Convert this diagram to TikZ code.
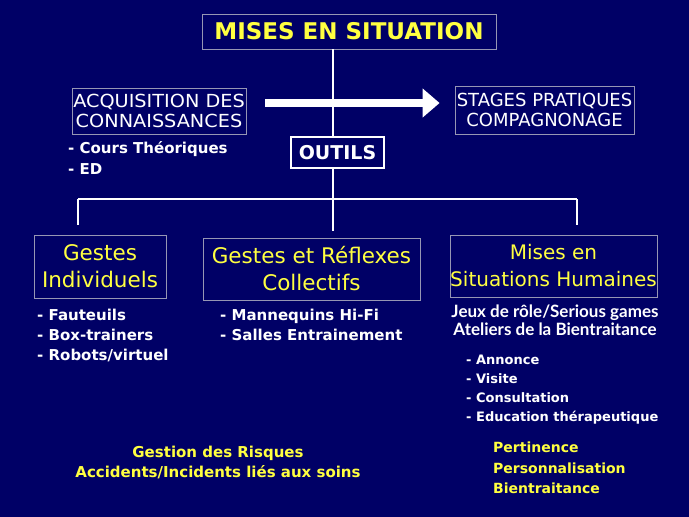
\documentclass[tikz,border=0pt]{standalone}
\usepackage{fontspec}
\setmainfont{DejaVu Sans}
\newfontfamily\jeuxfont{Lato}
\newfontfamily\widefont[FakeStretch=1.07]{DejaVu Sans}
\usetikzlibrary{arrows.meta, positioning}
\definecolor{slidebg}{RGB}{0, 0, 102}
\definecolor{slideyellow}{RGB}{255, 255, 64}
\definecolor{slideborder}{RGB}{150, 150, 180}

\begin{document}
\begin{tikzpicture}[
  x=1pt, y=-1pt,
  box/.style={rectangle, draw=slideborder, line width=0.8pt, inner sep=0pt, align=center},
  titlebox/.style={box, text=slideyellow, font=\fontsize{21.5}{27}\selectfont},
  whitebox/.style={box, text=white, font=\widefont\fontsize{18}{20}\selectfont},
  listtext/.style={anchor=north west, align=left, inner sep=0pt, text=white,
              font=\bfseries\fontsize{15}{20}\selectfont},
  yellowtext/.style={inner sep=0pt, text=slideyellow, font=\bfseries\fontsize{14}{20.5}\selectfont},
  line/.style={draw=white, line width=2.5pt},
  bigarrow/.style={-{Triangle[length=17pt,width=28pt]}, white, line width=8pt},
]
  \fill[slidebg] (0,0) rectangle (689,517);
  \useasboundingbox (0,0) rectangle (689,517);

  % top row
  \node[box, minimum width=294pt, minimum height=35pt, text=slideyellow,
        font=\bfseries\fontsize{23}{24}\selectfont] (top) at (349,31.5) {MISES EN SITUATION};
  \node[whitebox, minimum width=174pt, minimum height=46pt] (acq) at (159,111) {ACQUISITION DES\\CONNAISSANCES};
  \node[whitebox, font=\fontsize{18}{20}\selectfont, minimum width=179pt, minimum height=48pt]
        (stages) at (544.5,110) {STAGES PRATIQUES\\COMPAGNONAGE};
  \node[box, draw=white, line width=2pt, minimum width=93pt, minimum height=31pt, text=white,
        font=\bfseries\fontsize{19}{20}\selectfont] (outils) at (337.5,152.5) {OUTILS};
  \node[listtext, font=\bfseries\fontsize{15}{21}\selectfont] (cours) at (68,141) {- Cours Théoriques\\- ED};

  % tree
  \coordinate (branch) at (333,199);
  \coordinate (bl) at (78,199);
  \coordinate (br) at (577,199);
  \coordinate (blend) at (78,225);
  \coordinate (bmend) at (333,231);
  \coordinate (brend) at (577,225);

  \draw[line] (branch |- top.south) -- (branch |- outils.north);
  \draw[line] (branch |- outils.south) -- (branch);
  \draw[line] (bl) -- (br);
  \draw[line] (bl) -- (blend);
  \draw[line] (branch) -- (bmend);
  \draw[line] (br) -- (brend);
  \draw[bigarrow] ([xshift=19pt,yshift=8pt]acq.east) -- ([xshift=-15pt,yshift=7pt]stages.west);

  % bottom row
  \node[titlebox, minimum width=132pt, minimum height=63pt] (indiv) at (100,266.5) {Gestes\\Individuels};
  \node[titlebox, minimum width=217pt, minimum height=62pt] (collect) at (311.5,269) {Gestes et Réflexes\\Collectifs};
  \node[titlebox, font=\fontsize{20}{27}\selectfont, minimum width=207pt, minimum height=62pt]
        (humain) at (553.5,266) {Mises en\\Situations Humaines};

  \node[listtext] (indivlist) at (37,309) {- Fauteuils\\- Box-trainers\\- Robots/virtuel};
  \node[listtext] (collectlist) at (220,309) {- Mannequins Hi-Fi\\- Salles Entrainement};
  \node[inner sep=0pt, align=center, text=white, font=\jeuxfont\bfseries\fontsize{17}{18}\selectfont]
        (jeux) at (555,320) {Jeux de rôle/Serious games\\Ateliers de la Bientraitance};
  \node[listtext, font=\bfseries\fontsize{13}{19}\selectfont] (humainlist) at (466,355)
        {- Annonce\\- Visite\\- Consultation\\- Education thérapeutique};

  \node[yellowtext, align=center, font=\bfseries\fontsize{15}{20}\selectfont] (risques) at (218,462)
        {Gestion des Risques\\Accidents/Incidents liés aux soins};
  \node[yellowtext, align=left, anchor=north west] (pertin) at (493,442) {Pertinence\\Personnalisation\\Bientraitance};
\end{tikzpicture}
\end{document}
